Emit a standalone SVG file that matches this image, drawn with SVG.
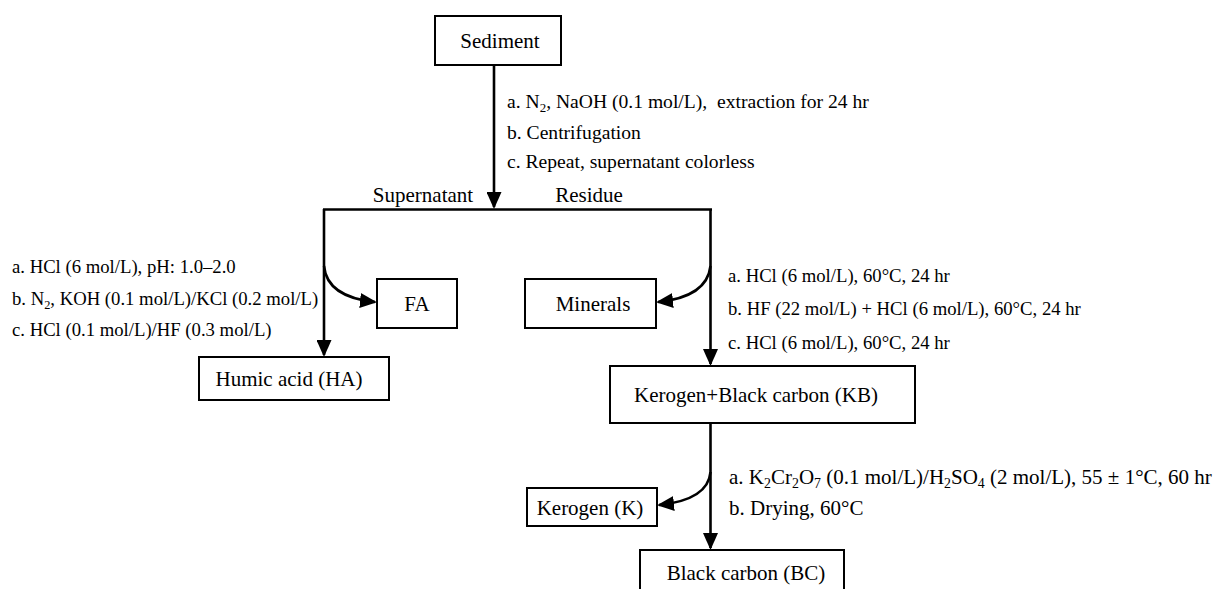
<svg xmlns="http://www.w3.org/2000/svg" width="1217" height="589" viewBox="0 0 1217 589">
<style>
  .box { fill: #fff; stroke: #000; stroke-width: 2; }
  .node { font-family: "Liberation Serif", "Times New Roman", serif; font-size: 21px; fill: #000; text-anchor: middle; }
  .lbl { font-family: "Liberation Serif", "Times New Roman", serif; font-size: 18.7px; fill: #000; }
  .lblm { font-size: 19.6px; }
  .lblk { font-size: 21px; }
  .sub { font-size: 0.66em; }
  .conn { fill: none; stroke: #000; stroke-width: 2.6; }
  .arr { marker-end: url(#ah); }
</style>
<defs>
  <marker id="ah" markerUnits="userSpaceOnUse" markerWidth="17" markerHeight="15" refX="15" refY="7.5" orient="auto">
    <path d="M0,0 L17,7.5 L0,15 z" fill="#000"/>
  </marker>
</defs>
<rect width="1217" height="589" fill="#fff"/>

<g id="connectors">
  <path class="conn arr" d="M494,65 V207"/>
  <path class="conn" d="M323,209.5 H712"/>
  <path class="conn arr" d="M324,209 V355"/>
  <path class="conn arr" d="M710.5,209 V364"/>
  <path class="conn arr" d="M324,266 Q327,297 375,302"/>
  <path class="conn arr" d="M710.5,266 Q707,297 658,302"/>
  <path class="conn arr" d="M710.5,423 V548"/>
  <path class="conn arr" d="M710.5,472 Q708,500 659,505"/>
</g>

<g id="labels">
  <text class="lbl lblm" x="507" y="108" xml:space="preserve">a. N<tspan class="sub" dy="4">2</tspan><tspan dy="-4">, NaOH (0.1 mol/L),  extraction for 24 hr</tspan></text>
  <text class="lbl lblm" x="507" y="139">b. Centrifugation</text>
  <text class="lbl lblm" x="507" y="168">c. Repeat, supernatant colorless</text>
  <text class="node" x="423" y="202">Supernatant</text>
  <text class="node" x="589" y="202">Residue</text>

  <text class="lbl" x="12" y="273">a. HCl (6 mol/L), pH: 1.0–2.0</text>
  <text class="lbl" x="12" y="305">b. N<tspan class="sub" dy="4">2</tspan><tspan dy="-4">, KOH (0.1 mol/L)/KCl (0.2 mol/L)</tspan></text>
  <text class="lbl" x="12" y="336">c. HCl (0.1 mol/L)/HF (0.3 mol/L)</text>

  <text class="lbl" x="728" y="282">a. HCl (6 mol/L), 60°C, 24 hr</text>
  <text class="lbl" x="728" y="315">b. HF (22 mol/L) + HCl (6 mol/L), 60°C, 24 hr</text>
  <text class="lbl" x="728" y="349">c. HCl (6 mol/L), 60°C, 24 hr</text>

  <text class="lbl lblk" x="729" y="484">a. K<tspan class="sub" dy="4">2</tspan><tspan dy="-4">Cr</tspan><tspan class="sub" dy="4">2</tspan><tspan dy="-4">O</tspan><tspan class="sub" dy="4">7</tspan><tspan dy="-4"> (0.1 mol/L)/H</tspan><tspan class="sub" dy="4">2</tspan><tspan dy="-4">SO</tspan><tspan class="sub" dy="4">4</tspan><tspan dy="-4"> (2 mol/L), 55 ± 1°C, 60 hr</tspan></text>
  <text class="lbl lblk" x="729" y="515">b. Drying, 60°C</text>
</g>

<g id="sediment">
  <rect class="box" x="435" y="16" width="126" height="49"/>
  <text class="node" x="500" y="48">Sediment</text>
</g>
<g id="fa">
  <rect class="box" x="377" y="279" width="80" height="49"/>
  <text class="node" x="417" y="311">FA</text>
</g>
<g id="humic-acid">
  <rect class="box" x="199" y="357" width="190" height="43"/>
  <text class="node" x="289" y="386">Humic acid (HA)</text>
</g>
<g id="minerals">
  <rect class="box" x="525" y="279" width="131" height="49"/>
  <text class="node" x="593" y="311">Minerals</text>
</g>
<g id="kerogen-black-carbon">
  <rect class="box" x="610" y="366" width="305" height="57"/>
  <text class="node" x="756" y="402">Kerogen+Black carbon (KB)</text>
</g>
<g id="kerogen">
  <rect class="box" x="527" y="488" width="130" height="38"/>
  <text class="node" x="590" y="515">Kerogen (K)</text>
</g>
<g id="black-carbon">
  <rect class="box" x="640" y="550" width="204" height="50"/>
  <text class="node" x="746" y="580">Black carbon (BC)</text>
</g>
</svg>
